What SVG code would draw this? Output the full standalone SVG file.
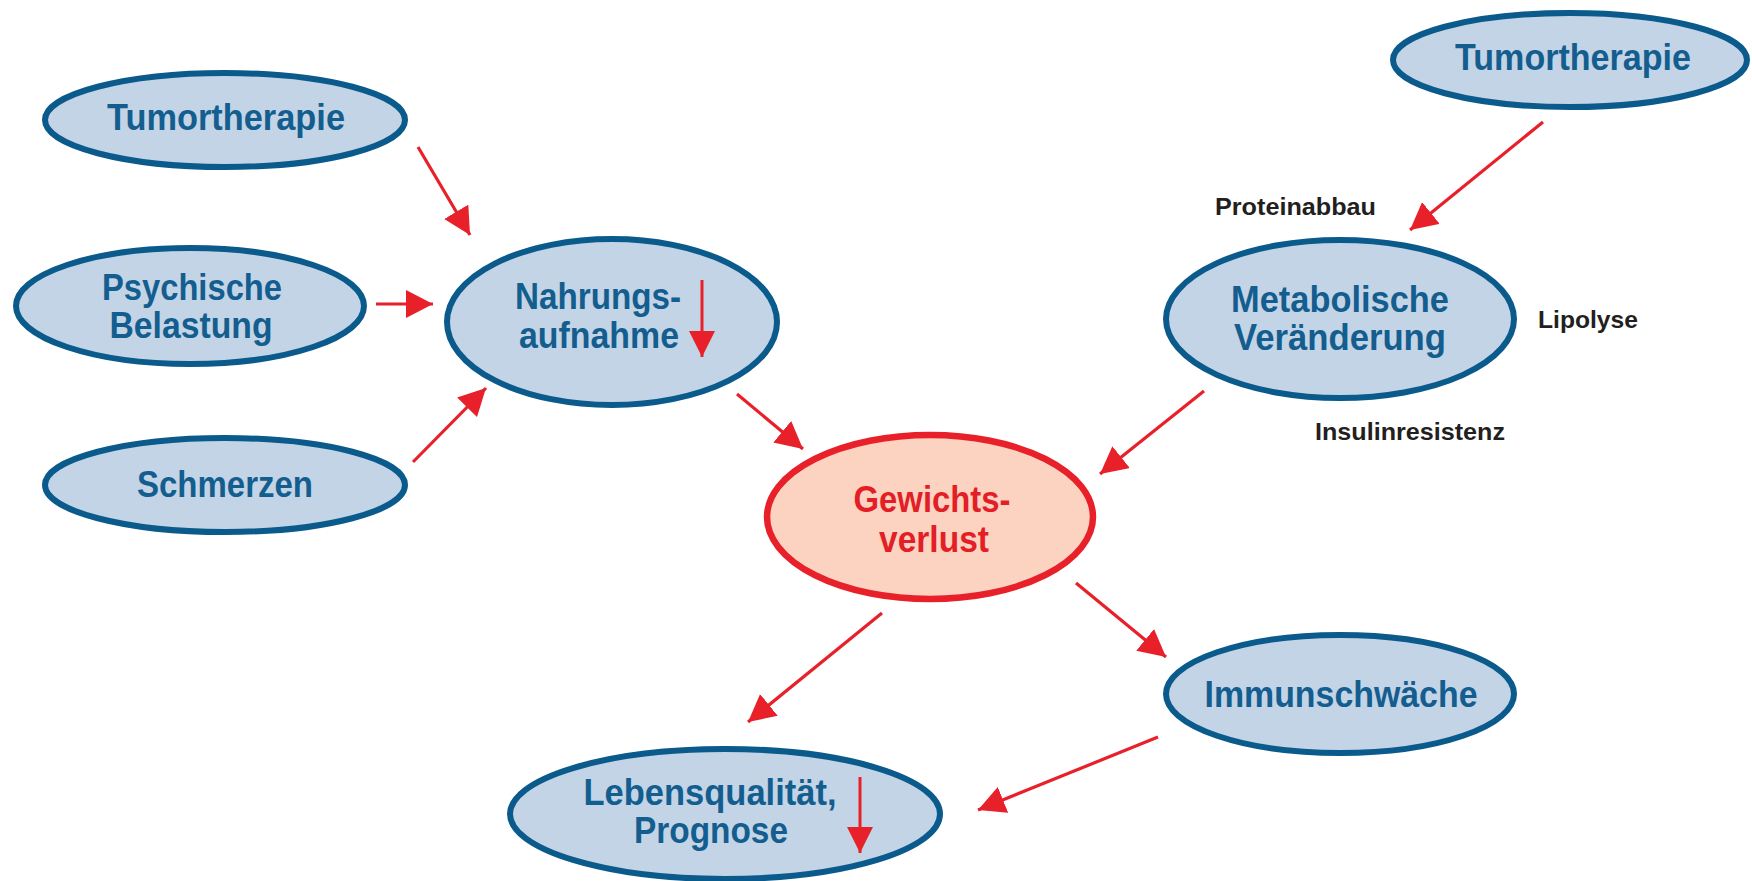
<svg xmlns="http://www.w3.org/2000/svg" width="1752" height="881" viewBox="0 0 1752 881">
<style>
.node{fill:#c3d4e6;stroke:#0b5a8c;stroke-width:6}
.hot{fill:#fcd3c1;stroke:#e8202a;stroke-width:6.5}
.lbl{font-family:"Liberation Sans Narrow","Liberation Sans",Arial,sans-serif;font-weight:bold;font-size:37px;fill:#135e8f;text-anchor:middle}
.lblr{fill:#e31e26}
.side{font-family:"Liberation Sans Narrow","Liberation Sans",Arial,sans-serif;font-weight:bold;font-size:24px;fill:#231f20}
.con{stroke:#e8202a;stroke-width:3.2;fill:none;marker-end:url(#ah)}
.ind{stroke:#e8202a;stroke-width:3;fill:none;marker-end:url(#ahs)}
</style>
<defs>
<marker id="ah" markerUnits="userSpaceOnUse" markerWidth="30" markerHeight="30" refX="27" refY="14" orient="auto" viewBox="0 0 30 30">
<path d="M0,0 L27,14 L0,28 z" fill="#e8202a"/>
</marker>
<marker id="ahs" markerUnits="userSpaceOnUse" markerWidth="30" markerHeight="30" refX="26" refY="13" orient="auto" viewBox="0 0 30 30">
<path d="M0,0 L26,13 L0,26 z" fill="#e8202a"/>
</marker>
</defs>
<rect width="1752" height="881" fill="#ffffff"/>

<g id="connectors">
<line class="con" x1="418" y1="147" x2="470" y2="235"/>
<line class="con" x1="376" y1="304" x2="433" y2="304"/>
<line class="con" x1="413" y1="462" x2="486" y2="388"/>
<line class="con" x1="737" y1="394" x2="803" y2="449"/>
<line class="con" x1="1543" y1="122" x2="1410" y2="230"/>
<line class="con" x1="1204" y1="391" x2="1100" y2="474"/>
<line class="con" x1="882" y1="613" x2="748" y2="722"/>
<line class="con" x1="1076" y1="583" x2="1166" y2="657"/>
<line class="con" x1="1158" y1="737" x2="978" y2="810"/>
</g>

<g id="tumortherapie-left">
<ellipse class="node" cx="225" cy="120" rx="180" ry="47"/>
<text class="lbl" x="226" y="130" textLength="238" lengthAdjust="spacingAndGlyphs">Tumortherapie</text>
</g>

<g id="psychische-belastung">
<ellipse class="node" cx="190" cy="306" rx="174" ry="58"/>
<text class="lbl" x="192" y="300" textLength="180" lengthAdjust="spacingAndGlyphs">Psychische</text>
<text class="lbl" x="191" y="338" textLength="163" lengthAdjust="spacingAndGlyphs">Belastung</text>
</g>

<g id="schmerzen">
<ellipse class="node" cx="225" cy="485" rx="180" ry="47"/>
<text class="lbl" x="225" y="497" textLength="176" lengthAdjust="spacingAndGlyphs">Schmerzen</text>
</g>

<g id="nahrungsaufnahme">
<ellipse class="node" cx="612" cy="322" rx="165" ry="83"/>
<text class="lbl" x="598" y="309" textLength="166" lengthAdjust="spacingAndGlyphs">Nahrungs-</text>
<text class="lbl" x="599" y="348" textLength="160" lengthAdjust="spacingAndGlyphs">aufnahme</text>
<line class="ind" x1="702" y1="280" x2="702" y2="357"/>
</g>

<g id="gewichtsverlust">
<ellipse class="hot" cx="930" cy="517" rx="163" ry="82"/>
<text class="lbl lblr" x="932" y="512" textLength="157" lengthAdjust="spacingAndGlyphs">Gewichts-</text>
<text class="lbl lblr" x="934" y="552" textLength="110" lengthAdjust="spacingAndGlyphs">verlust</text>
</g>

<g id="tumortherapie-right">
<ellipse class="node" cx="1570" cy="60" rx="177" ry="47"/>
<text class="lbl" x="1573" y="70" textLength="236" lengthAdjust="spacingAndGlyphs">Tumortherapie</text>
</g>

<g id="metabolische-veraenderung">
<ellipse class="node" cx="1340" cy="319" rx="174" ry="79"/>
<text class="lbl" x="1340" y="312" textLength="218" lengthAdjust="spacingAndGlyphs">Metabolische</text>
<text class="lbl" x="1340" y="350" textLength="212" lengthAdjust="spacingAndGlyphs">Veränderung</text>
</g>

<g id="side-labels">
<text class="side" x="1215" y="215" textLength="161" lengthAdjust="spacingAndGlyphs">Proteinabbau</text>
<text class="side" x="1538" y="328" textLength="100" lengthAdjust="spacingAndGlyphs">Lipolyse</text>
<text class="side" x="1315" y="440" textLength="190" lengthAdjust="spacingAndGlyphs">Insulinresistenz</text>
</g>

<g id="immunschwaeche">
<ellipse class="node" cx="1340" cy="694" rx="174" ry="59"/>
<text class="lbl" x="1341" y="707" textLength="273" lengthAdjust="spacingAndGlyphs">Immunschwäche</text>
</g>

<g id="lebensqualitaet-prognose">
<ellipse class="node" cx="725" cy="814" rx="215" ry="65"/>
<text class="lbl" x="710" y="805" textLength="253" lengthAdjust="spacingAndGlyphs">Lebensqualität,</text>
<text class="lbl" x="711" y="843" textLength="154" lengthAdjust="spacingAndGlyphs">Prognose</text>
<line class="ind" x1="860" y1="777" x2="860" y2="853"/>
</g>
</svg>
